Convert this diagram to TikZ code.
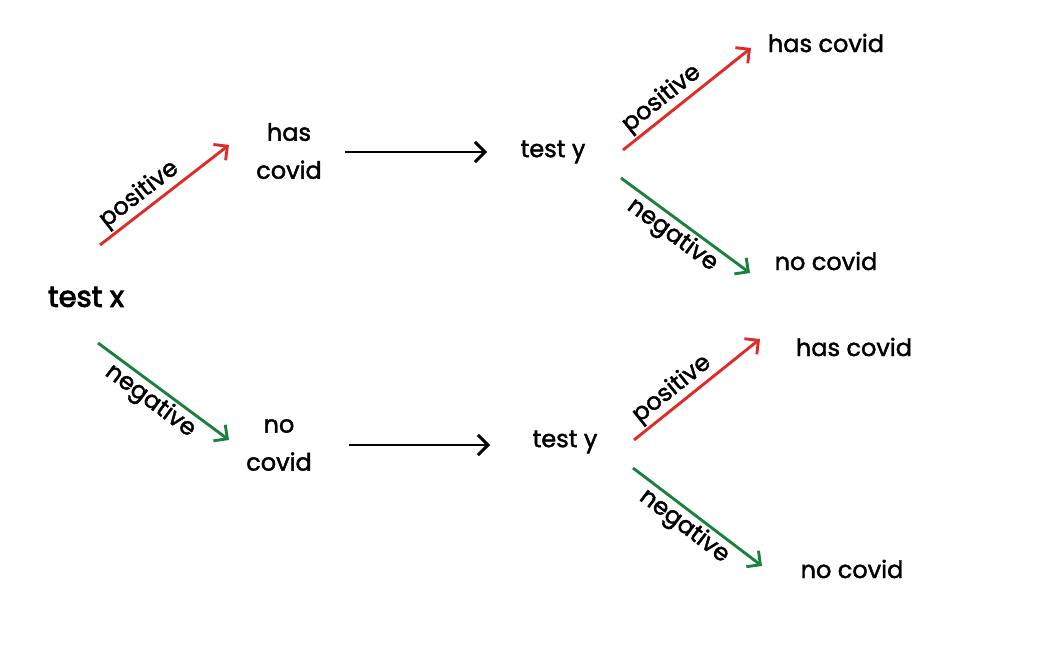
\documentclass[tikz,border=0pt]{standalone}
\usepackage{fontspec}
\setmainfont{Poppins}[FakeBold=1.8]
\newfontfamily\semib{Poppins}[FakeBold=3]
\usetikzlibrary{arrows.meta}
\definecolor{posred}{RGB}{222,44,40}
\definecolor{neggreen}{RGB}{28,128,62}
\tikzset{
  lbl/.style={font=\fontsize{24}{28}\selectfont, inner sep=0pt, align=center},
  branch/.style={line width=2.9pt, -{Straight Barb[length=10pt,width=20pt,line width=2.9pt]}},
  posarrow/.style={branch, posred},
  negarrow/.style={branch, neggreen},
  flow/.style={branch, black},
  edgelbl/.style={font=\fontsize{24}{26}\selectfont, text=black, sloped, inner sep=2pt}
}
\begin{document}
\begin{tikzpicture}[x=1pt,y=-1pt]
\useasboundingbox (0,0) rectangle (1044,652);
% nodes
\node[lbl, font=\semib\fontsize{29}{32}\selectfont] (tx) at (86,297) {test x};
\node[lbl, text width=4cm] (hc1) at (289,151) {has\\[10pt]covid};
\node[lbl, text width=4cm] (nc1) at (279,445) {no\\[10pt]covid};
\node[lbl] (ty1) at (553,152) {test y};
\node[lbl] (ty2) at (565,442) {test y};
\node[lbl] (hc2) at (826,43) {has covid};
\node[lbl] (nc2) at (826,261) {no covid};
\node[lbl] (hc3) at (854,347) {has covid};
\node[lbl] (nc3) at (852,569) {no covid};
% arrow end points
\coordinate (a1s) at (100,245); \coordinate (a1e) at (229,145);
\coordinate (a2s) at (98,343);  \coordinate (a2e) at (229,440);
\coordinate (b1s) at (345,152); \coordinate (b1e) at (487,152);
\coordinate (b2s) at (349,445); \coordinate (b2e) at (490,445);
\coordinate (c1s) at (623,150); \coordinate (c1e) at (751,48);
\coordinate (c2s) at (621,178); \coordinate (c2e) at (750,273);
\coordinate (d1s) at (634,440); \coordinate (d1e) at (760,339);
\coordinate (d2s) at (633,468); \coordinate (d2e) at (762,566);
% connectors
\draw[posarrow] (a1s) -- node[edgelbl, above, pos=0.38] {positive} (a1e);
\draw[negarrow] (a2s) -- node[edgelbl, below, pos=0.47] {negative} (a2e);
\draw[flow] (b1s) -- (b1e);
\draw[flow] (b2s) -- (b2e);
\draw[posarrow] (c1s) -- node[edgelbl, above, pos=0.38] {positive} (c1e);
\draw[negarrow] (c2s) -- node[edgelbl, below, pos=0.47] {negative} (c2e);
\draw[posarrow] (d1s) -- node[edgelbl, above, pos=0.38] {positive} (d1e);
\draw[negarrow] (d2s) -- node[edgelbl, below, pos=0.47] {negative} (d2e);
\end{tikzpicture}
\end{document}
